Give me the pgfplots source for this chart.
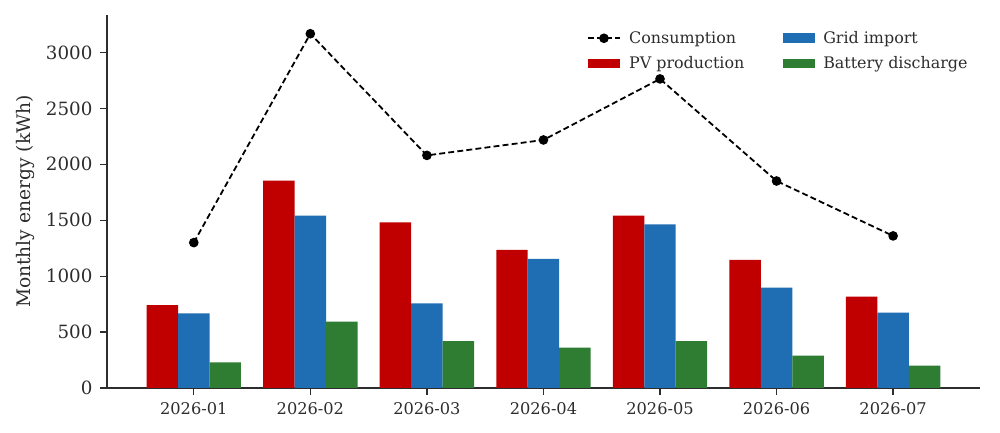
\documentclass[border=0pt]{standalone}
\usepackage{pgfplots}
\pgfplotsset{compat=1.18}
\usepackage{fontspec}
\setmainfont{DejaVu Serif}
\definecolor{pvred}{RGB}{192,0,0}
\definecolor{gridblue}{RGB}{31,109,178}
\definecolor{battgreen}{RGB}{46,125,50}
\definecolor{spine}{RGB}{45,45,45}
\pgfplotsset{
  linelegend/.style={legend image code/.code={\draw[##1, mark repeat=2, mark phase=2] plot coordinates {(0pt,0pt)(11.5pt,0pt)(23pt,0pt)};}},
  rectlegend/.style={legend image code/.code={\fill[#1] (0pt,-3.6pt) rectangle (23pt,3.6pt);}},
}
\pgfplotstableread{
x pv grid batt cons
0 742 668 230 1300
1 1854 1541 593 3168
2 1482 757 420 2080
3 1234 1154 360 2218
4 1541 1464 420 2764
5 1145 897 289 1851
6 817 674 200 1360
}\data
\begin{document}
\begin{tikzpicture}
\begin{axis}[name=ax, scale only axis, width=630.9pt, height=269.6pt,
  xmin=-0.745, xmax=6.745, ymin=0, ymax=3336,
  axis x line*=bottom, axis y line*=left,
  axis line style={spine, line width=0.9pt, -},
  xtick={0,1,2,3,4,5,6},
  xticklabels={2026-01,2026-02,2026-03,2026-04,2026-05,2026-06,2026-07},
  ytick={0,500,1000,1500,2000,2500,3000},
  tick align=outside, major tick length=5pt,
  tick style={spine, line width=0.9pt},
  xticklabel style={font=\fontsize{11.7}{13}\selectfont, text=spine, yshift=-2pt},
  yticklabel style={font=\fontsize{13.2}{15}\selectfont, text=spine, xshift=-2pt},
  /pgf/number format/assume math mode=true,
  /pgf/number format/1000 sep={},
  ylabel={Monthly energy (kWh)},
  ylabel style={font=\fontsize{13.5}{15}\selectfont, text=spine},
  ylabel shift=1pt,
  legend columns=2, transpose legend, legend cell align=left,
  legend style={draw=none, fill=none, at={(rel axis cs:0.545,0.972)}, anchor=north west,
    font=\fontsize{11.5}{13}\selectfont, text=spine, column sep=4pt, row sep=4pt},
]
\addplot[black, dash pattern=on 4.3pt off 2.3pt, line width=1.3pt, mark=*, mark size=2.8pt,
  mark options={solid}, linelegend]
  table[x=x, y=cons] {\data};
\addlegendentry{Consumption}
\addplot[ybar, fill=pvred, draw=none, bar width=0.27, bar shift=-0.27, rectlegend=pvred]
  table[x=x, y=pv] {\data};
\addlegendentry{PV production\rule{22pt}{0pt}}
\addplot[ybar, fill=gridblue, draw=none, bar width=0.27, bar shift=0, rectlegend=gridblue]
  table[x=x, y=grid] {\data};
\addlegendentry{Grid import}
\addplot[ybar, fill=battgreen, draw=none, bar width=0.27, bar shift=0.27, rectlegend=battgreen]
  table[x=x, y=batt] {\data};
\addlegendentry{Battery discharge}
\end{axis}
\pgfresetboundingbox
\path[use as bounding box] ([xshift=-77.3pt,yshift=-32.5pt]ax.south west) rectangle ([xshift=14.5pt,yshift=10.8pt]ax.north east);
\end{tikzpicture}
\end{document}
